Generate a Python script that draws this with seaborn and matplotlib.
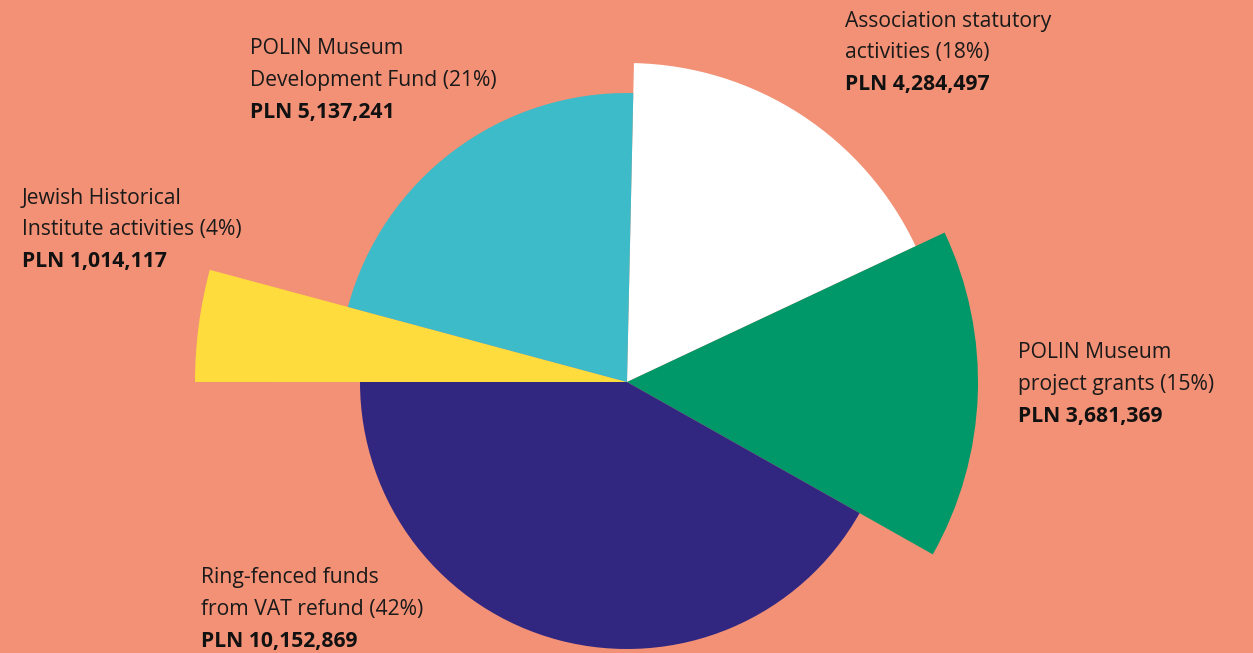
import numpy as np
import matplotlib
matplotlib.use("Agg")
import matplotlib.pyplot as plt
import seaborn as sns

# ---- data ----
categories = ["Association statutory activities", "POLIN Museum project grants",
              "Ring-fenced funds from VAT refund", "Jewish Historical Institute activities",
              "POLIN Museum Development Fund"]
values = [4284497, 3681369, 10152869, 1014117, 5137241]
percent_labels = ["18%", "15%", "42%", "4%", "21%"]
label_lines = [["Association statutory", "activities (18%)"],
               ["POLIN Museum", "project grants (15%)"],
               ["Ring-fenced funds", "from VAT refund (42%)"],
               ["Jewish Historical", "Institute activities (4%)"],
               ["POLIN Museum", "Development Fund (21%)"]]
amount_labels = ["PLN 4,284,497", "PLN 3,681,369", "PLN 10,152,869",
                 "PLN 1,014,117", "PLN 5,137,241"]
# visual slice radii (pixels)
slice_radius = [319, 351, 267, 432, 289]

colors = ["#FFFFFF", "#009868", "#312781", "#FFDC3E", "#3DBBC8"]
bg = "#F29175"

sns.set_style("white")
plt.rcParams['font.family'] = ['Open Sans', 'DejaVu Sans']

W, H = 1253, 653
fig = plt.figure(figsize=(W / 100, H / 100), dpi=100, facecolor=bg)

cx, cy = 627, 382   # pie centre in pixel coords (from top)
R = 450
ax = fig.add_axes([(cx - R) / W, (H - cy - R) / H, 2 * R / W, 2 * R / H],
                  projection="polar")
ax.set_facecolor("none")
ax.patch.set_alpha(0)
ax.set_theta_zero_location("N")
ax.set_theta_direction(-1)

total = sum(values)
widths = np.array(values) / total * 2 * np.pi
start = np.deg2rad(1.25)
lefts = start + np.concatenate([[0], np.cumsum(widths)[:-1]])
ax.bar(lefts, slice_radius, width=widths, align="edge", color=colors,
       edgecolor="none", linewidth=0)
ax.set_ylim(0, R)
ax.set_axis_off()

# ---- labels ----
label_pos = [(845, 21), (1018, 353), (201, 578), (22, 198), (250, 49)]
line_gap = 31.8
fs = 15.2
for (x, y), lines, amt in zip(label_pos, label_lines, amount_labels):
    for i, t in enumerate(lines):
        fig.text(x / W, 1 - (y + i * line_gap) / H, t, ha="left", va="center",
                 fontsize=fs, color="#1a1a1a")
    fig.text(x / W, 1 - (y + 2 * line_gap) / H, amt, ha="left", va="center",
             fontsize=fs, fontweight="bold", color="#111111")

fig.savefig("out.png", dpi=100, facecolor=bg)
